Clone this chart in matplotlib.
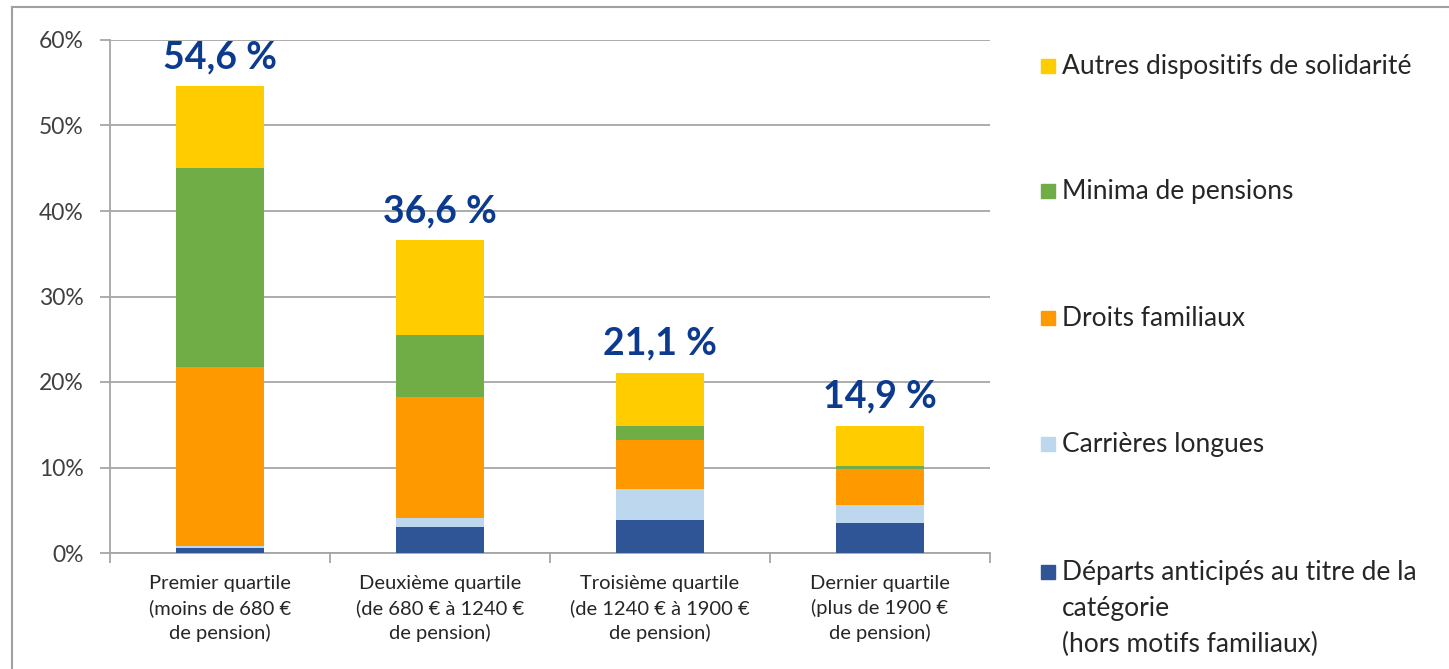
import matplotlib
matplotlib.use("Agg")
import matplotlib.pyplot as plt
from matplotlib.patches import Rectangle
from matplotlib.lines import Line2D
import numpy as np

plt.rcParams['font.family'] = ['Lato', 'DejaVu Sans']

categories = [
    "Premier quartile\n(moins de 680 €\nde pension)",
    "Deuxième quartile\n(de 680 € à 1240 €\nde pension)",
    "Troisième quartile\n(de 1240 € à 1900 €\nde pension)",
    "Dernier quartile\n(plus de 1900 €\nde pension)",
]

# Stacked components, in % (bottom to top)
departs_anticipes = [0.6, 3.0, 3.85, 3.55]
carrieres_longues = [0.2, 1.1, 3.6, 2.1]
droits_familiaux = [20.9, 14.15, 5.75, 4.15]
minima_pensions = [23.3, 7.25, 1.65, 0.4]
autres_solidarite = [9.6, 11.1, 6.25, 4.7]
totals = [54.6, 36.6, 21.1, 14.9]
total_labels = ["54,6 %", "36,6 %", "21,1 %", "14,9 %"]

series_names = [
    "Départs anticipés au titre de la\ncatégorie\n(hors motifs familiaux)",
    "Carrières longues",
    "Droits familiaux",
    "Minima de pensions",
    "Autres dispositifs de solidarité",
]
series_values = [departs_anticipes, carrieres_longues, droits_familiaux,
                 minima_pensions, autres_solidarite]
colors = ["#2F5597", "#BDD7EE", "#FF9900", "#70AD47", "#FFCC00"]

W, H = 1449, 669
fig = plt.figure(figsize=(W / 100, H / 100), dpi=100)
ax = fig.add_axes([110 / W, (H - 553) / H, 880 / W, 513 / H])

x = np.arange(len(categories))
bottom = np.zeros(len(categories))
for vals, col in zip(series_values, colors):
    ax.bar(x, vals, bottom=bottom, width=0.4, color=col, zorder=3,
           edgecolor='none')
    bottom += np.array(vals)

for xi, tot, lab in zip(x, totals, total_labels):
    ax.text(xi, tot + 1.4, lab, ha='center', va='bottom', fontsize=27,
            fontweight='bold', color='#0B3A8E')

ax.set_xlim(-0.5, len(categories) - 0.5)
ax.set_ylim(0, 60)
ax.set_yticks(np.arange(0, 61, 10))
ax.set_yticklabels([f"{v}%" for v in range(0, 61, 10)], fontsize=16.5,
                   color='#404040')
ax.yaxis.grid(True, color='#A6A6A6', linewidth=1.3, zorder=0)
ax.set_axisbelow(True)

ax.set_xticks(x)
ax.set_xticklabels(categories, fontsize=14.5, color='#262626',
                   linespacing=1.45)
ax.set_xticks(np.arange(-0.5, len(categories), 1), minor=True)
ax.tick_params(axis='x', which='major', length=0, pad=16)
ax.tick_params(axis='x', which='minor', length=7, width=1.3,
               color='#A6A6A6')
ax.tick_params(axis='y', length=7, width=1.3, color='#A6A6A6', pad=12)

for s in ['top', 'right']:
    ax.spines[s].set_visible(False)
for s in ['left', 'bottom']:
    ax.spines[s].set_color('#A6A6A6')
    ax.spines[s].set_linewidth(1.3)

# Legend, top entry first
legend_y = [66, 191, 318, 444, 572]
for name, col, yy in zip(series_names[::-1], colors[::-1], legend_y):
    fig.add_artist(Rectangle((1041 / W, (H - yy - 7) / H), 14 / W, 14 / H,
                             transform=fig.transFigure, color=col))
    fig.text(1062 / W, (H - yy + 12) / H, name, fontsize=19,
             color='#262626', va='top', ha='left', linespacing=1.55,
             transform=fig.transFigure)

# Outer frame (top and left edges)
fig.add_artist(Line2D([12 / W, 1], [(H - 7) / H] * 2, color='#A0A0A0',
                      linewidth=1.5, transform=fig.transFigure))
fig.add_artist(Line2D([12 / W] * 2, [0, (H - 7) / H], color='#A0A0A0',
                      linewidth=1.5, transform=fig.transFigure))

fig.savefig("out.png", dpi=100)
